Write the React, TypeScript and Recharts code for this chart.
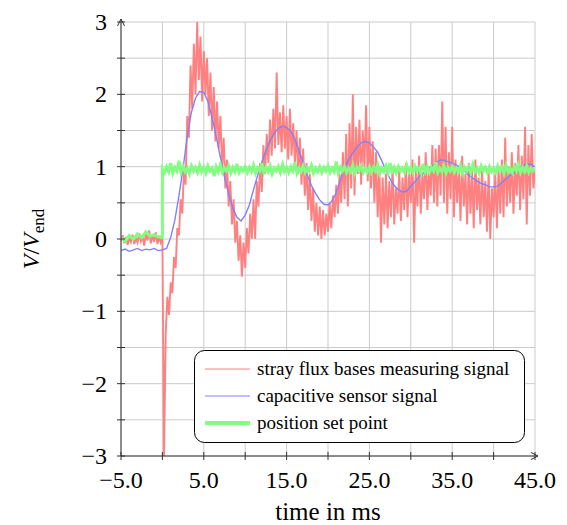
import React from 'react';
import { LineChart, Line, XAxis, YAxis, CartesianGrid, Legend } from 'recharts';

const xTicks = [-5, 0, 5, 10, 15, 20, 25, 30, 35, 40, 45];
const xLabelled = [-5, 5, 15, 25, 35, 45];
const yTicks = [-3, -2.5, -2, -1.5, -1, -0.5, 0, 0.5, 1, 1.5, 2, 2.5, 3];

const seriesNames = ['stray flux bases measuring signal', 'capacitive sensor signal', 'position set point'];
const seriesColors = ['#ff8080', '#8080ff', '#80ff80'];
const legendWidths = [1, 1, 4];

// stray flux signal, sampled every 0.2 ms from -5 ms
const redValues = [
  -0.03, 0.05, -0.06, 0.03, -0.08, 0.02, -0.04, 0.06, -0.07, 0.01,
  -0.05, 0.08, -0.03, 0.04, -0.09, 0.07, -0.02, 0.12, -0.06, 0.05,
  -0.04, 0.09, -0.07, 0.03, -0.05, 0.02, -3.0, -1.3, -0.8, -1.05,
  -0.6, -0.75, -0.25, -0.4, 0.15, 0.05, 0.55, 0.35, 0.95, 0.75,
  1.7, 1.4, 2.4, 1.8, 2.7, 2.0, 3.0, 2.2, 2.8, 1.9,
  2.6, 2.0, 2.5, 1.7, 2.3, 1.5, 2.1, 1.35, 1.9, 1.25,
  1.7, 1.0, 1.4, 0.7, 1.1, 0.45, 0.8, 0.2, 0.55, -0.05,
  0.25, -0.3, 0.05, -0.52, -0.05, -0.4, 0.15, -0.2, 0.35, 0.0,
  0.55, 0.0, 0.8, 0.45, 1.05, 0.65, 1.3, 0.9, 1.45, 1.05,
  1.65, 1.15, 1.8, 1.25, 2.3, 1.3, 1.75, 1.2, 1.85, 1.25,
  1.7, 1.1, 1.8, 1.15, 1.6, 1.05, 1.5, 0.9, 1.4, 0.75,
  1.25, 0.6, 1.05, 0.4, 0.9, 0.25, 0.7, 0.1, 0.5, 0.05,
  0.45, 0.0, 0.4, 0.05, 0.35, 0.1, 0.5, 0.15, 0.6, 0.3,
  0.75, 0.35, 0.9, 0.5, 1.2, 0.55, 1.45, 0.45, 1.6, 0.7,
  2.0, 0.6, 1.55, 0.9, 1.65, 0.75, 1.5, 1.0, 1.85, 0.8,
  1.55, 0.7, 1.35, 0.5, 1.2, 0.3, 1.0, -0.05, 0.85, 0.2,
  0.9, 0.15, 0.8, 0.3, 1.0, 0.2, 0.7, 0.35, 0.95, 0.25,
  0.85, 0.4, 1.05, 0.3, 0.9, 0.5, 1.1, -0.05, 0.95, 0.45,
  1.15, 0.35, 0.9, 0.55, 1.2, 0.4, 1.0, 0.6, 1.3, 0.5,
  1.25, 0.45, 1.3, 0.6, 1.9, 0.5, 1.55, 0.35, 1.2, 0.55,
  1.55, 0.3, 1.1, 0.5, 1.0, 0.25, 1.15, 0.45, 0.9, 0.2,
  1.05, 0.35, 0.95, 0.15, 1.1, 0.4, 0.85, 0.2, 1.0, 0.3,
  0.8, 0.1, 0.95, 0.0, 0.7, 0.3, 0.9, 0.15, 1.0, 0.35,
  1.1, 0.3, 1.4, 0.45, 1.0, 0.5, 1.2, 0.35, 1.05, 0.6,
  1.3, 0.4, 1.15, 0.55, 1.55, 0.2, 1.3, 0.6, 1.45, 0.7,
  0.95,
];

// capacitive sensor, every 0.5 ms from -5 ms
const blueValues = [
  -0.16, -0.14, -0.17, -0.15, -0.13, -0.16, -0.14, -0.15, -0.13, -0.16,
  -0.15, -0.13, 0.02, 0.26, 0.6, 0.98, 1.42, 1.75, 1.95, 2.04,
  2.03, 1.9, 1.68, 1.42, 1.13, 0.86, 0.62, 0.43, 0.3, 0.25,
  0.33, 0.47, 0.68, 0.88, 1.06, 1.22, 1.36, 1.46, 1.53, 1.56,
  1.54, 1.49, 1.38, 1.22, 1.05, 0.88, 0.74, 0.63, 0.54, 0.48,
  0.47, 0.53, 0.64, 0.82, 0.98, 1.1, 1.19, 1.27, 1.33, 1.35,
  1.33, 1.27, 1.2, 1.08, 0.95, 0.83, 0.74, 0.68, 0.65, 0.66,
  0.73, 0.79, 0.86, 0.91, 0.96, 1.0, 1.05, 1.09, 1.09, 1.07,
  1.05, 1.02, 0.99, 0.94, 0.88, 0.84, 0.8, 0.77, 0.75, 0.72,
  0.72, 0.73, 0.78, 0.83, 0.88, 0.92, 0.97, 1.01, 1.04, 1.03,
  1.0,
];

// set point: every 0.5 ms before the step (-5..0), every 0.25 ms after it (0..45)
const greenBefore = [0.02, -0.03, 0.05, 0.0, 0.07, 0.02, 0.1, 0.04, 0.06, 0.03, 0.02];
const greenAfter = [
  0.97, 0.92, 1.0, 0.93, 1.05, 0.91, 0.99, 0.94, 1.08, 0.92, 1.0, 0.93, 0.98, 0.9, 1.01, 0.94, 0.99, 0.92, 1.02, 0.93,
  0.99, 0.91, 1.01, 0.94, 0.98, 0.87, 1.0, 0.93, 1.03, 0.92, 0.98, 0.94, 1.01, 0.91, 0.99, 0.93, 1.04, 0.92, 0.98, 0.94,
  1.0, 0.92, 0.99, 0.93, 1.02, 0.91, 0.98, 0.94, 1.05, 0.92, 0.99, 0.93, 1.01, 0.9, 0.98, 0.94, 1.0, 0.92, 1.03, 0.93,
  0.99, 0.92, 1.0, 0.94, 1.06, 0.91, 0.98, 0.93, 1.01, 0.92, 0.99, 0.94, 1.02, 0.91, 0.98, 0.93, 1.0, 0.92, 0.99, 0.94,
  1.01, 0.92, 0.98, 0.93, 1.07, 0.91, 0.99, 0.94, 1.0, 0.92, 0.98, 0.93, 1.02, 0.91, 0.99, 0.94, 1.01, 0.92, 0.98, 0.93,
  1.0, 0.92, 0.99, 0.94, 1.03, 0.91, 0.98, 0.93, 1.01, 0.92, 1.05, 0.93, 0.99, 0.91, 1.0, 0.94, 0.98, 0.92, 1.02, 0.93,
  0.99, 0.92, 1.01, 0.94, 0.98, 0.91, 1.04, 0.93, 1.0, 0.92, 0.99, 0.94, 1.06, 0.92, 0.98, 0.93, 1.01, 0.91, 0.99, 0.94,
  1.0, 0.92, 0.98, 0.93, 1.02, 0.91, 0.99, 0.94, 1.0, 0.92, 1.03, 0.93, 0.98, 0.91, 1.01, 0.94, 0.99, 0.92, 1.0, 0.93,
  0.98, 0.92, 1.01, 0.94, 0.99, 0.91, 1.02, 0.93, 0.98, 0.92, 1.0, 0.94, 1.03, 0.92, 0.99, 0.93, 1.01, 0.92, 0.98, 0.94,
  0.97,
];

const toPoints = (vals: number[], start: number, step: number) =>
  vals.map((v, i) => ({ t: Math.round((start + i * step) * 100) / 100, v }));

const redData = toPoints(redValues, -5, 0.2);
const blueData = toPoints(blueValues, -5, 0.5);
const greenData = [...toPoints(greenBefore, -5, 0.5), ...toPoints(greenAfter, 0, 0.25)];

const FONT = '"Liberation Serif", "DejaVu Serif", serif';
const AXIS = '#333';
const fmt = (v: number) => (v < 0 ? '\u2212' + Math.abs(v) : String(v));

const YTick = ({ x, y, payload }: any) => {
  const v = payload.value;
  return (
    <g>
      <line x1={x - 4} x2={x + 4} y1={y} y2={y} stroke={AXIS} />
      {Number.isInteger(v) && (
        <text x={x - 14} y={y + 8} textAnchor="end" fontFamily={FONT} fontSize={24} fill="#000">
          {fmt(v)}
        </text>
      )}
      {v === 3 && (
        <g>
          <line x1={x} x2={x} y1={y} y2={y - 3} stroke={AXIS} />
          <path d={`M${x - 3.5} ${y + 4} L${x} ${y - 3} L${x + 3.5} ${y + 4}`} fill="none" stroke={AXIS} />
        </g>
      )}
    </g>
  );
};

const XTick = ({ x, y, payload }: any) => {
  const v = payload.value;
  return (
    <g>
      <line x1={x} x2={x} y1={y - 4} y2={y + 4} stroke={AXIS} />
      {xLabelled.includes(v) && (
        <text x={x} y={y + 32} textAnchor="middle" fontFamily={FONT} fontSize={24} fill="#000">
          {fmt(v) + '.0'}
        </text>
      )}
      {v === 45 && (
        <g>
          <line x1={x} x2={x + 3} y1={y} y2={y} stroke={AXIS} />
          <path d={`M${x - 4} ${y - 3.5} L${x + 3} ${y} L${x - 4} ${y + 3.5}`} fill="none" stroke={AXIS} />
        </g>
      )}
    </g>
  );
};

const YLabel = ({ viewBox }: any) => {
  const cx = viewBox.x + 39;
  const cy = viewBox.y + viewBox.height / 2;
  return (
    <text x={cx} y={cy} transform={`rotate(-90, ${cx}, ${cy})`} textAnchor="middle" fontFamily={FONT} fontSize={24} fill="#000">
      <tspan fontStyle="italic">V</tspan>
      <tspan>/</tspan>
      <tspan fontStyle="italic">V</tspan>
      <tspan fontSize={17} dy={5}>end</tspan>
    </text>
  );
};

const XLabel = ({ viewBox }: any) => (
  <text x={viewBox.x + viewBox.width / 2} y={viewBox.y + 64} textAnchor="middle" fontFamily={FONT} fontSize={25} fill="#000">
    time in ms
  </text>
);

const LegendBox = () => (
  <svg width={331} height={93} style={{ display: 'block' }}>
    <rect x={0.5} y={0.5} width={330} height={92} rx={10} fill="#fff" stroke="#000" />
    {seriesNames.map((name, i) => {
      const cy = 19 + i * 27;
      return (
        <g key={name}>
          <line x1={11} x2={56} y1={cy} y2={cy} stroke={seriesColors[i]} strokeWidth={legendWidths[i]} />
          <text x={63} y={cy + 6} fontFamily={FONT} fontSize={19} fill="#000">
            {name}
          </text>
        </g>
      );
    })}
  </svg>
);

export default function App() {
  return (
    <div style={{ position: 'absolute', left: 0, top: 0, width: 567, height: 525, background: '#fff' }}>
      <LineChart width={567} height={525} margin={{ top: 22, right: 32, left: 0, bottom: 0 }}>
        <CartesianGrid stroke="#cbcbcb" />
        <XAxis
          type="number"
          dataKey="t"
          domain={[-5, 45]}
          allowDataOverflow
          ticks={xTicks}
          interval={0}
          tick={<XTick />}
          tickSize={0}
          tickMargin={0}
          height={69}
          axisLine={{ stroke: AXIS }}
          label={<XLabel />}
        />
        <YAxis
          type="number"
          domain={[-3, 3]}
          allowDataOverflow
          ticks={yTicks}
          interval={0}
          tick={<YTick />}
          tickSize={0}
          tickMargin={0}
          width={121}
          axisLine={{ stroke: AXIS }}
          label={<YLabel />}
        />
        <Legend
          layout="vertical"
          align="center"
          verticalAlign="middle"
          content={<LegendBox />}
          wrapperStyle={{ left: 194, top: 350, width: 331, height: 93 }}
        />
        <Line
          data={redData}
          dataKey="v"
          name={seriesNames[0]}
          stroke={seriesColors[0]}
          strokeWidth={1.9}
          dot={false}
          isAnimationActive={false}
        />
        <Line
          data={blueData}
          dataKey="v"
          name={seriesNames[1]}
          stroke={seriesColors[1]}
          strokeWidth={1.4}
          dot={false}
          isAnimationActive={false}
        />
        <Line
          data={greenData}
          dataKey="v"
          name={seriesNames[2]}
          stroke={seriesColors[2]}
          strokeWidth={3}
          dot={false}
          isAnimationActive={false}
        />
      </LineChart>
    </div>
  );
}
